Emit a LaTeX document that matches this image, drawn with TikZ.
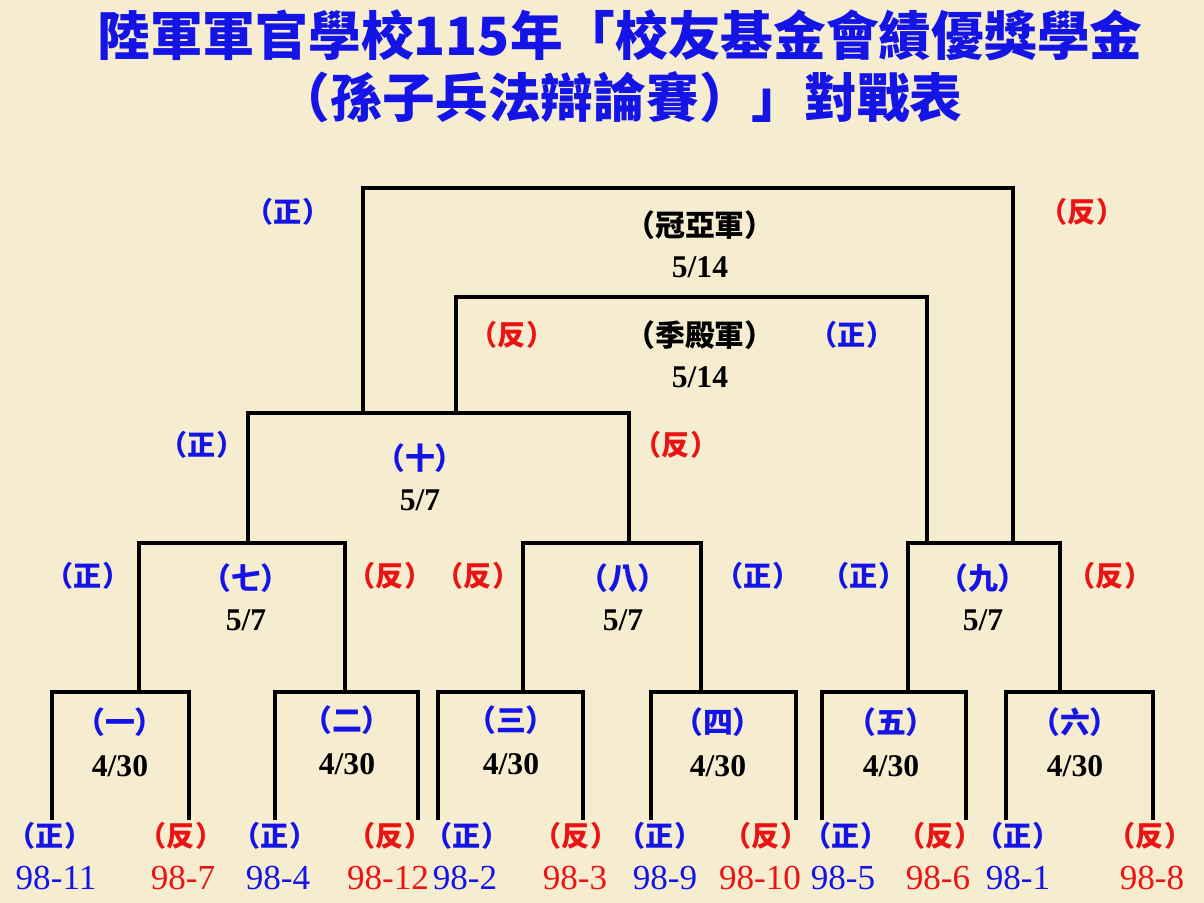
\documentclass[tikz,border=0pt]{standalone}
\usepackage{fontspec}
\newfontfamily\cjk{Noto Sans CJK TC}
\newfontfamily\numfont{Liberation Serif}
\definecolor{paper}{RGB}{246,236,208}
\definecolor{teamblue}{RGB}{20,20,230}
\definecolor{teamred}{RGB}{235,20,20}
\tikzset{
  bracket/.style={line width=2.6pt, black},
  pro/.style={teamblue, inner sep=1pt, font=\cjk\bfseries\fontsize{16}{16}\selectfont},
  con/.style={teamred, inner sep=1pt, font=\cjk\bfseries\fontsize{16}{16}\selectfont},
  round/.style={teamblue, font=\cjk\bfseries\fontsize{17}{17}\selectfont},
  final/.style={black, font=\cjk\bfseries\fontsize{17}{17}\selectfont},
  date/.style={black, font=\numfont\bfseries\fontsize{18}{18}\selectfont},
  team/.style={inner sep=1pt, font=\numfont\fontsize{20}{20}\selectfont}
}
\begin{document}
\begin{tikzpicture}[x=0.02cm, y=-0.02cm]
  \fill[paper] (0,0) rectangle (1204,903);
  \useasboundingbox (0,0) rectangle (1204,903);

  % title
  \node[teamblue, font=\cjk\bfseries\fontsize{30}{30}\selectfont] (title1) at (620,35) {陸軍軍官學校115年「校友基金會績優獎學金};
  \node[teamblue, font=\cjk\bfseries\fontsize{30}{30}\selectfont] (title2) at (620,97) {（孫子兵法辯論賽）」對戰表};

  % first round brackets
  \foreach \name/\xl/\xr in {m1/52/189, m2/275/418, m3/438/583, m4/651/796, m5/822/966, m6/1006/1153} {
    \coordinate (\name bl) at (\xl,820);
    \coordinate (\name br) at (\xr,820);
    \coordinate (\name tl) at (\xl,692);
    \coordinate (\name tr) at (\xr,692);
    \draw[bracket] (\name bl) -- (\name tl) -- (\name tr) -- (\name br);
  }

  % second round
  \coordinate (m7l) at (139,692); \coordinate (m7r) at (345,692);
  \draw[bracket] (m7l) -- (139,543) -- (345,543) -- (m7r);
  \coordinate (m8l) at (523,692); \coordinate (m8r) at (701,692);
  \draw[bracket] (m8l) -- (523,543) -- (701,543) -- (m8r);
  \coordinate (m9l) at (908,692); \coordinate (m9r) at (1060,692);
  \draw[bracket] (m9l) -- (908,543) -- (1060,543) -- (m9r);

  % semi final
  \coordinate (m10l) at (248,543); \coordinate (m10r) at (629,543);
  \draw[bracket] (m10l) -- (248,413) -- (629,413) -- (m10r);

  % third place and final
  \coordinate (thirdl) at (456,413); \coordinate (thirdr) at (927,543);
  \draw[bracket] (thirdl) -- (456,297) -- (927,297) -- (thirdr);
  \coordinate (finall) at (363,413); \coordinate (finalr) at (1013,543);
  \draw[bracket] (finall) -- (363,188) -- (1013,188) -- (finalr);

  % round labels
  \foreach \name/\x/\y/\txt in {r1/120/722/一, r2/347/720/二, r3/511/720/三,
      r4/718/722/四, r5/891/722/五, r6/1075/722/六} {
    \node[round] (\name) at (\x,\y) {（\txt）};
    \node[date] (\name d) at (\x,\y+44) {4/30};
  }
  \foreach \name/\x/\y/\txt in {r7/246/578/七, r8/623/578/八, r9/983/578/九, r10/420/458/十} {
    \node[round] (\name) at (\x,\y) {（\txt）};
    \node[date] (\name d) at (\x,\y+42) {5/7};
  }
  \node[final] (third) at (700,335) {（季殿軍）};
  \node[date] (thirdd) at (700,377) {5/14};
  \node[final] (final) at (700,225) {（冠亞軍）};
  \node[date] (finald) at (700,267) {5/14};

  % sides
  \foreach \x/\y in {288/212, 202/445, 88/576, 758/576, 864/576, 852/335, 50/836, 275/836, 467/836, 660/836, 846/836, 1018/836}
    \node[pro] at (\x,\y) {（正）};
  \foreach \x/\y in {1082/212, 512/335, 676/445, 390/576, 478/576, 1110/576, 181/836, 390/836, 576/836, 766/836, 940/836, 1150/836}
    \node[con] at (\x,\y) {（反）};

  % teams
  \foreach \x/\t in {56/98-11, 278/98-4, 465/98-2, 665/98-9, 843/98-5, 1018/98-1}
    \node[team, teamblue] at (\x,878) {\t};
  \foreach \x/\t in {183/98-7, 388/98-12, 575/98-3, 760/98-10, 938/98-6, 1152/98-8}
    \node[team, teamred] at (\x,878) {\t};
\end{tikzpicture}
\end{document}
